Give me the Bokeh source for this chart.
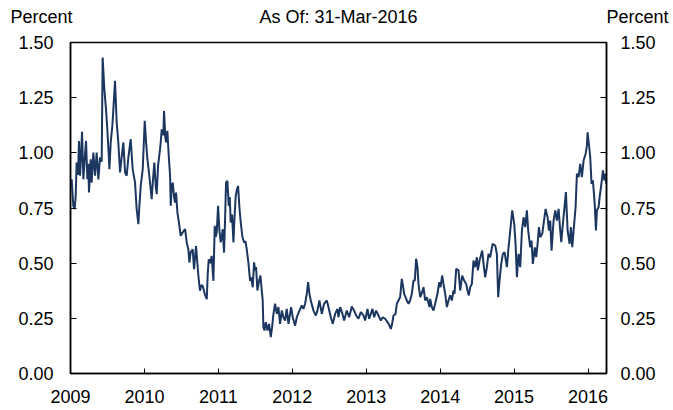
from bokeh.plotting import figure
from bokeh.layouts import column
from bokeh.models import FixedTicker, PrintfTickFormatter, LinearAxis, ColumnDataSource
from bokeh.core.properties import value
from bokeh.embed import file_html
from bokeh.resources import INLINE

# ---- data (decimal year, percent) ----
dates_a = [2009.000, 2009.016, 2009.038, 2009.056, 2009.070, 2009.083, 2009.101, 2009.115, 2009.129, 2009.142,
           2009.156, 2009.174, 2009.192, 2009.210, 2009.228, 2009.241, 2009.250, 2009.273, 2009.286, 2009.309,
           2009.332, 2009.354, 2009.377, 2009.399, 2009.422, 2009.435, 2009.458, 2009.480, 2009.498, 2009.517,
           2009.526, 2009.544, 2009.566, 2009.580, 2009.602, 2009.625, 2009.647, 2009.670, 2009.692, 2009.715,
           2009.738, 2009.760, 2009.783, 2009.814, 2009.841, 2009.873, 2009.895, 2009.918, 2009.932, 2009.950,
           2009.977, 2010.004, 2010.022, 2010.040, 2010.058, 2010.076, 2010.098, 2010.116, 2010.134, 2010.153,
           2010.166, 2010.184, 2010.198, 2010.216, 2010.234, 2010.256, 2010.265, 2010.283, 2010.292, 2010.310,
           2010.329, 2010.347, 2010.356, 2010.369, 2010.383, 2010.401, 2010.414, 2010.428, 2010.446, 2010.468,
           2010.491, 2010.518, 2010.550, 2010.572, 2010.595, 2010.608, 2010.626, 2010.653, 2010.671, 2010.698,
           2010.716, 2010.730, 2010.743, 2010.752, 2010.770, 2010.789, 2010.816, 2010.843, 2010.856, 2010.870,
           2010.888, 2010.910, 2010.924, 2010.933, 2010.951, 2010.965, 2010.978, 2010.996, 2011.014, 2011.032,
           2011.046, 2011.059, 2011.077, 2011.091, 2011.104, 2011.122, 2011.140, 2011.154, 2011.167, 2011.185,
           2011.204, 2011.217, 2011.235, 2011.249, 2011.267, 2011.285, 2011.303, 2011.325, 2011.348, 2011.366,
           2011.384, 2011.407, 2011.429]
values_a = [0.86, 0.88, 0.76, 0.745, 0.80, 0.956, 0.90, 1.054, 0.896, 0.98,
            1.095, 0.88, 0.97, 1.054, 0.88, 0.95, 0.82, 0.971, 0.865, 1.001,
            0.896, 1.001, 0.88, 0.979, 0.96, 1.432, 1.288, 1.198, 1.107, 0.99,
            0.926, 1.047, 1.122, 1.198, 1.326, 1.137, 1.047, 0.911, 0.98, 1.047,
            0.911, 0.896, 0.98, 1.062, 0.926, 0.865, 0.745, 0.677, 0.76, 0.850,
            0.926, 1.145, 1.05, 0.971, 0.92, 0.865, 0.790, 0.88, 0.956, 0.85,
            0.813, 0.94, 0.979, 1.03, 1.107, 1.08, 1.190, 1.07, 1.047, 1.100,
            0.986, 0.896, 0.760, 0.85, 0.865, 0.80, 0.775, 0.82, 0.730, 0.68,
            0.624, 0.64, 0.654, 0.594, 0.56, 0.503, 0.55, 0.563, 0.473, 0.578,
            0.50, 0.443, 0.40, 0.375, 0.40, 0.397, 0.36, 0.337, 0.45, 0.518,
            0.50, 0.533, 0.46, 0.420, 0.669, 0.62, 0.639, 0.760, 0.65, 0.594,
            0.62, 0.654, 0.548, 0.70, 0.865, 0.873, 0.76, 0.80, 0.684, 0.72,
            0.594, 0.70, 0.805, 0.83, 0.850, 0.75, 0.684, 0.62, 0.594, 0.60,
            0.563, 0.50, 0.42]

dates_b = [2011.443, 2011.465, 2011.483, 2011.497, 2011.510, 2011.528, 2011.551, 2011.569, 2011.587, 2011.600,
           2011.609, 2011.623, 2011.641, 2011.664, 2011.686, 2011.709, 2011.727, 2011.745, 2011.767, 2011.790,
           2011.812, 2011.835, 2011.858, 2011.880, 2011.903, 2011.925, 2011.948, 2011.970, 2011.984, 2012.006,
           2012.038, 2012.061, 2012.097, 2012.128, 2012.151, 2012.173, 2012.196, 2012.214, 2012.232, 2012.250,
           2012.286, 2012.318, 2012.340, 2012.367, 2012.399, 2012.430, 2012.467, 2012.489, 2012.521, 2012.548,
           2012.579, 2012.611, 2012.624, 2012.647, 2012.679, 2012.701, 2012.737, 2012.769, 2012.805, 2012.836,
           2012.863, 2012.895, 2012.927, 2012.963, 2012.985, 2013.017, 2013.039, 2013.062, 2013.085, 2013.107,
           2013.134, 2013.166, 2013.197, 2013.224, 2013.256, 2013.288, 2013.315, 2013.333, 2013.351, 2013.369,
           2013.396, 2013.414, 2013.436, 2013.459, 2013.481, 2013.500, 2013.513, 2013.531, 2013.549, 2013.572,
           2013.594, 2013.617, 2013.639, 2013.657, 2013.675, 2013.693, 2013.707, 2013.730, 2013.748, 2013.775,
           2013.797, 2013.820, 2013.856]
values_b = [0.436, 0.391, 0.504, 0.467, 0.482, 0.376, 0.421, 0.444, 0.376, 0.331,
            0.210, 0.195, 0.233, 0.195, 0.225, 0.165, 0.210, 0.270, 0.316, 0.270,
            0.301, 0.225, 0.285, 0.255, 0.240, 0.293, 0.225, 0.270, 0.301, 0.255,
            0.217, 0.255, 0.285, 0.308, 0.293, 0.316, 0.361, 0.414, 0.361, 0.331,
            0.285, 0.263, 0.285, 0.331, 0.270, 0.316, 0.331, 0.301, 0.255, 0.225,
            0.270, 0.293, 0.255, 0.301, 0.270, 0.240, 0.285, 0.255, 0.304, 0.285,
            0.263, 0.248, 0.278, 0.263, 0.240, 0.293, 0.248, 0.270, 0.293, 0.255,
            0.285, 0.263, 0.240, 0.255, 0.248, 0.233, 0.217, 0.202, 0.225, 0.263,
            0.270, 0.316, 0.331, 0.346, 0.429, 0.391, 0.361, 0.346, 0.331, 0.316,
            0.331, 0.361, 0.421, 0.421, 0.520, 0.482, 0.406, 0.346, 0.361, 0.391,
            0.331, 0.346, 0.301]

dates_c = [2013.865, 2013.888, 2013.910, 2013.937, 2013.964, 2013.987, 2014.005, 2014.027, 2014.045, 2014.068,
           2014.091, 2014.113, 2014.136, 2014.158, 2014.181, 2014.194, 2014.217, 2014.248, 2014.271, 2014.298,
           2014.325, 2014.352, 2014.370, 2014.388, 2014.406, 2014.429, 2014.451, 2014.474, 2014.497, 2014.510,
           2014.533, 2014.569, 2014.587, 2014.609, 2014.632, 2014.654, 2014.677, 2014.709, 2014.745, 2014.767,
           2014.785, 2014.803, 2014.826, 2014.848, 2014.871, 2014.903, 2014.925, 2014.948, 2014.975, 2015.002,
           2015.020, 2015.038, 2015.060, 2015.083, 2015.106, 2015.128, 2015.151, 2015.173, 2015.191, 2015.218,
           2015.236, 2015.254, 2015.281, 2015.299, 2015.318, 2015.336, 2015.354, 2015.381, 2015.399, 2015.426,
           2015.453, 2015.471, 2015.489, 2015.507, 2015.534, 2015.557, 2015.579, 2015.602, 2015.624, 2015.638,
           2015.660, 2015.678, 2015.701, 2015.724, 2015.751, 2015.769, 2015.787, 2015.805, 2015.832, 2015.850,
           2015.872, 2015.895, 2015.917, 2015.940, 2015.967, 2015.985, 2015.994, 2016.012, 2016.030, 2016.048,
           2016.066, 2016.084, 2016.093, 2016.107, 2016.120, 2016.143, 2016.157, 2016.175, 2016.202, 2016.220,
           2016.233, 2016.246]
values_c = [0.338, 0.301, 0.285, 0.323, 0.361, 0.414, 0.391, 0.444, 0.406, 0.361,
            0.301, 0.331, 0.354, 0.331, 0.376, 0.361, 0.474, 0.467, 0.376, 0.444,
            0.421, 0.406, 0.376, 0.354, 0.391, 0.406, 0.512, 0.482, 0.527, 0.467,
            0.512, 0.557, 0.497, 0.436, 0.482, 0.542, 0.527, 0.587, 0.580, 0.542,
            0.346, 0.421, 0.497, 0.542, 0.550, 0.482, 0.572, 0.648, 0.739, 0.678,
            0.587, 0.436, 0.542, 0.482, 0.648, 0.708, 0.663, 0.739, 0.648, 0.572,
            0.602, 0.497, 0.572, 0.527, 0.587, 0.663, 0.618, 0.633, 0.678, 0.746,
            0.708, 0.648, 0.693, 0.557, 0.693, 0.739, 0.693, 0.746, 0.648, 0.595,
            0.678, 0.739, 0.822, 0.648, 0.587, 0.663, 0.572, 0.648, 0.754, 0.905,
            0.890, 0.950, 0.890, 0.965, 0.995, 1.033, 1.093, 1.040, 0.980, 0.859,
            0.875, 0.799, 0.754, 0.648, 0.739, 0.754, 0.799, 0.844, 0.920, 0.875,
            0.905, 0.859]

year_ticks = [2009, 2010, 2011, 2012, 2013, 2014, 2015, 2016]
value_ticks = [0.0, 0.25, 0.5, 0.75, 1.0, 1.25, 1.5]
title_text = "As Of: 31-Mar-2016"
unit_text = "Percent"

FONT = "Liberation Sans"
FS = "18px"
LINE_COLOR = "#1B365F"

W, H = 673, 410
HEADER_H = 32
BORDER_L, BORDER_R = 70, 67

x_start, x_end = 2009.0, 2016.25
y_start, y_end = 0.0, 1.5

# ---------- header strip: title in the middle, unit labels over both value axes ----------
hdr = figure(width=W, height=HEADER_H, x_range=(0, 1), y_range=(0, 1),
             output_backend="svg", toolbar_location=None,
             x_axis_type=None, y_axis_type=None,
             min_border_left=BORDER_L, min_border_right=BORDER_R, min_border_top=0, min_border_bottom=0)
hdr.outline_line_color = None
hdr.xgrid.visible = False
hdr.ygrid.visible = False
hdr.text(x=[0.5], y=[0.5], text=[title_text], text_align="center", text_baseline="middle",
         text_font=value(FONT), text_font_size=FS, text_color="black")


def unit_axis(standoff):
    ax = LinearAxis(ticker=FixedTicker(ticks=[0.5]), formatter=PrintfTickFormatter(format=unit_text))
    ax.axis_line_color = None
    ax.major_tick_line_color = None
    ax.minor_tick_line_color = None
    ax.major_tick_in = 0
    ax.major_tick_out = 0
    ax.major_label_standoff = standoff
    ax.major_label_text_font = FONT
    ax.major_label_text_font_size = FS
    ax.major_label_text_color = "black"
    return ax


hdr.add_layout(unit_axis(-2), "left")
hdr.add_layout(unit_axis(0), "right")

# ---------- main chart ----------
source = ColumnDataSource(data=dict(x=dates_a + dates_b + dates_c,
                                    y=values_a + values_b + values_c))

p = figure(width=W, height=H - HEADER_H, x_range=(x_start, x_end), y_range=(y_start, y_end),
           output_backend="svg", toolbar_location=None,
           min_border_left=BORDER_L, min_border_right=BORDER_R,
           min_border_top=42 - HEADER_H, min_border_bottom=37)
p.background_fill_color = "white"
p.border_fill_color = "white"
p.xgrid.visible = False
p.ygrid.visible = False
p.outline_line_color = "black"
p.outline_line_width = 1.5
p.outline_line_alpha = 1.0

p.line("x", "y", source=source, line_color=LINE_COLOR, line_width=2)


def style(ax, tick_in, standoff):
    ax.axis_line_color = "black"
    ax.axis_line_width = 1.5
    ax.major_tick_line_color = "black"
    ax.major_tick_line_width = 1
    ax.major_tick_in = tick_in
    ax.major_tick_out = 0
    ax.minor_tick_line_color = None
    ax.major_label_text_font = FONT
    ax.major_label_text_font_size = FS
    ax.major_label_text_color = "black"
    ax.major_label_standoff = standoff


xa = p.xaxis[0]
xa.ticker = FixedTicker(ticks=year_ticks)
xa.formatter = PrintfTickFormatter(format="%d")
style(xa, 5, 16)

ya = p.yaxis[0]
ya.ticker = FixedTicker(ticks=value_ticks)
ya.formatter = PrintfTickFormatter(format="%.2f")
style(ya, 6, 17)

ry = LinearAxis(ticker=FixedTicker(ticks=value_ticks), formatter=PrintfTickFormatter(format="%.2f"))
style(ry, 6, 14)
p.add_layout(ry, "right")

layout = column(hdr, p, spacing=0)
open("out.html", "w").write(file_html(layout, INLINE))
